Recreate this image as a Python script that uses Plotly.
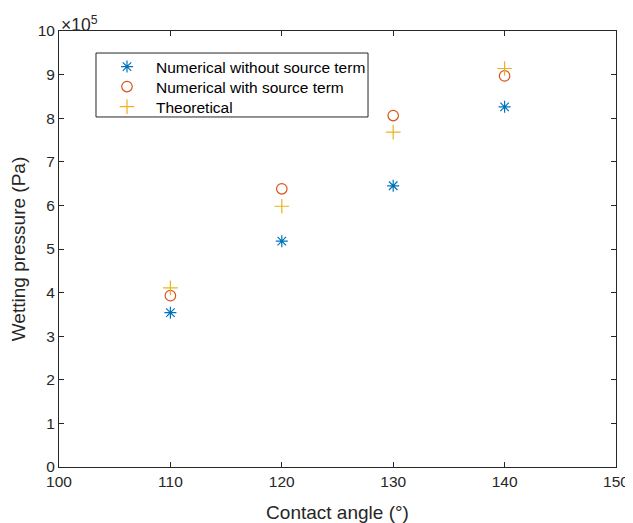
import plotly.graph_objects as go

angles = [110, 120, 130, 140]
no_source = [3.54e5, 5.18e5, 6.45e5, 8.26e5]
with_source = [3.93e5, 6.38e5, 8.06e5, 8.97e5]
theoretical = [4.11e5, 5.98e5, 7.68e5, 9.14e5]

x_ticks = [100, 110, 120, 130, 140, 150]
y_ticks = [i * 1e5 for i in range(11)]
y_tick_labels = [str(i) for i in range(11)]

font = "Liberation Sans, Arial, sans-serif"
axis_color = "#262626"
legend_font = dict(size=15.5, color="#000000")

fig = go.Figure()
fig.add_trace(go.Scatter(x=angles, y=no_source, mode="markers", name="Numerical without source term",
                         legend="legend",
                         marker=dict(symbol="asterisk-open", size=10, color="#0072BD",
                                     line=dict(color="#0072BD", width=1.2))))
fig.add_trace(go.Scatter(x=angles, y=with_source, mode="markers", name="Numerical with source term",
                         legend="legend2",
                         marker=dict(symbol="circle-open", size=10.5, color="#D95319",
                                     line=dict(color="#D95319", width=1.2))))
fig.add_trace(go.Scatter(x=angles, y=theoretical, mode="markers", name="Theoretical",
                         legend="legend3",
                         marker=dict(symbol="cross-thin-open", size=10.5, color="#EDB120",
                                     line=dict(color="#EDB120", width=1.2))))

def leg(y):
    return dict(x=0.070, y=y, xanchor="left", yanchor="top", borderwidth=0,
                bgcolor="rgba(0,0,0,0)", font=legend_font, itemwidth=48)

fig.update_layout(
    width=625, height=515,
    margin=dict(l=51, r=17, t=23, b=56, autoexpand=False),
    paper_bgcolor="white", plot_bgcolor="white",
    font=dict(family=font, size=15.5, color=axis_color),
    showlegend=True,
    legend=leg(0.9564),
    legend2=leg(0.9106),
    legend3=leg(0.8647),
    shapes=[dict(type="rect", xref="paper", yref="paper", x0=0.0664, x1=0.5548,
                 y0=0.8028, y1=0.9495, line=dict(color=axis_color, width=1),
                 fillcolor="white", layer="below")],
    xaxis=dict(range=[100, 150], tickvals=x_ticks, ticks="inside", ticklen=5,
               showline=True, linecolor=axis_color, linewidth=1, mirror="allticks",
               tickcolor=axis_color, showgrid=False, zeroline=False, automargin=False,
               ticklabeloverflow="allow",
               tickfont=dict(size=15.5),
               title=dict(text="Contact angle (°)", font=dict(size=19), standoff=18)),
    yaxis=dict(range=[0, 1e6], tickvals=y_ticks, ticktext=y_tick_labels, ticks="inside", ticklen=5,
               showline=True, linecolor=axis_color, linewidth=1, mirror="allticks",
               tickcolor=axis_color, showgrid=False, zeroline=False, automargin=False,
               ticklabeloverflow="allow",
               tickfont=dict(size=15.5),
               title=dict(text="Wetting pressure (Pa)", font=dict(size=19), standoff=8)),
    annotations=[dict(text="×10<sup>5</sup>", xref="paper", yref="paper", x=0, y=1,
                      xanchor="left", yanchor="bottom", showarrow=False,
                      font=dict(size=17.5, color=axis_color), xshift=0, yshift=-6)],
)

fig.write_html("out.html")
